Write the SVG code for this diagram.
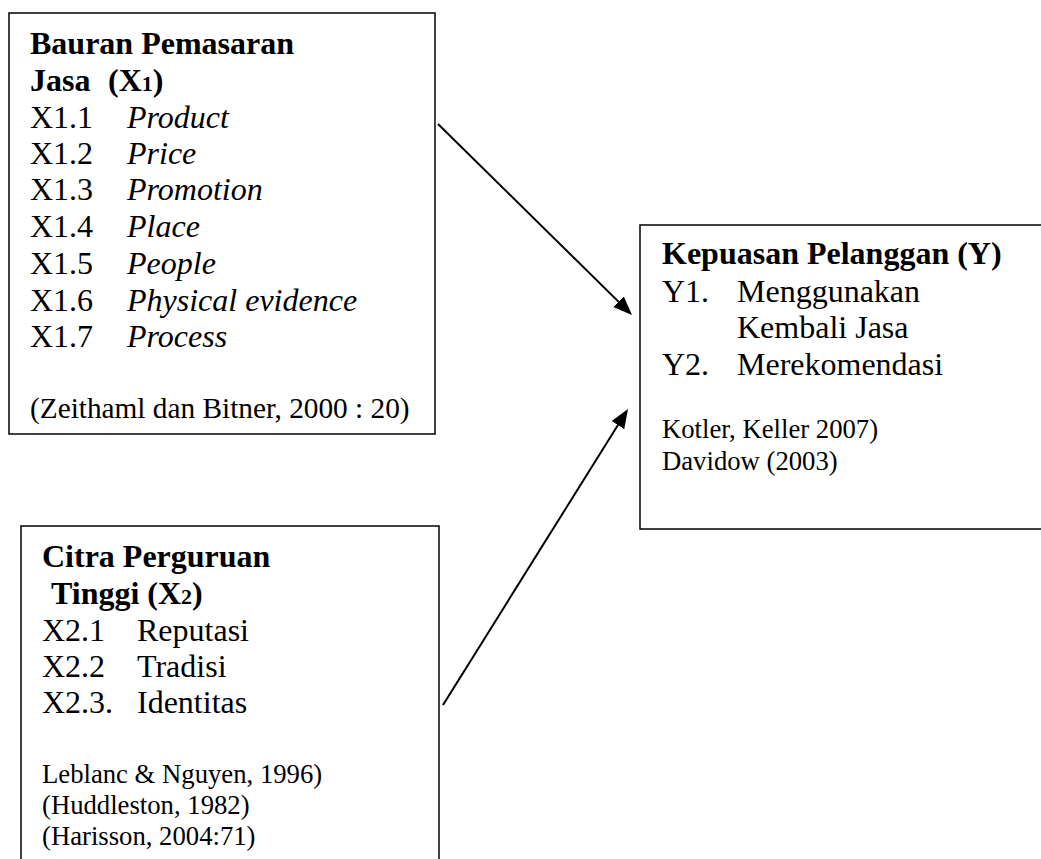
<svg xmlns="http://www.w3.org/2000/svg" width="1041" height="859" viewBox="0 0 1041 859">
<style>
  text { font-family: "Liberation Serif", "Times New Roman", serif; fill: #000; }
  .b { font-weight: bold; font-size: 32px; }
  .t { font-size: 32px; }
  .i { font-style: italic; }
  .c { font-size: 26.7px; }
  .c1 { font-size: 29.3px; }
  .box { fill: #fff; stroke: #111; stroke-width: 1.6; }
  .conn { stroke: #000; stroke-width: 2; fill: none; marker-end: url(#ah); }
</style>
<defs>
  <marker id="ah" markerUnits="userSpaceOnUse" markerWidth="20" markerHeight="16" refX="16" refY="7.5" orient="auto">
    <path d="M0,0 L19,7.5 L0,15 z" fill="#000"/>
  </marker>
</defs>
<rect width="1041" height="859" fill="#fff"/>

<g id="node-x1">
  <rect class="box" x="9" y="13" width="426" height="421"/>
  <text class="b" x="30" y="54">Bauran Pemasaran</text>
  <text class="b" x="30" y="91">Jasa</text>
  <text class="b" x="108" y="91">(X<tspan font-size="22">1</tspan>)</text>
  <text class="t" x="30" y="128">X1.1</text><text class="t i" x="127" y="128">Product</text>
  <text class="t" x="30" y="164">X1.2</text><text class="t i" x="127" y="164">Price</text>
  <text class="t" x="30" y="200">X1.3</text><text class="t i" x="127" y="200">Promotion</text>
  <text class="t" x="30" y="237">X1.4</text><text class="t i" x="127" y="237">Place</text>
  <text class="t" x="30" y="274">X1.5</text><text class="t i" x="127" y="274">People</text>
  <text class="t" x="30" y="311">X1.6</text><text class="t i" x="127" y="311">Physical evidence</text>
  <text class="t" x="30" y="347">X1.7</text><text class="t i" x="127" y="347">Process</text>
  <text class="c1" x="30" y="418">(Zeithaml dan Bitner, 2000 : 20)</text>
</g>

<g id="node-x2">
  <rect class="box" x="21" y="526" width="418" height="345"/>
  <text class="b" x="42" y="567">Citra Perguruan</text>
  <text class="b" x="51" y="604">Tinggi (X<tspan font-size="22">2</tspan>)</text>
  <text class="t" x="42" y="641">X2.1</text><text class="t" x="137" y="641">Reputasi</text>
  <text class="t" x="42" y="677">X2.2</text><text class="t" x="137" y="677">Tradisi</text>
  <text class="t" x="42" y="713">X2.3.</text><text class="t" x="137" y="713">Identitas</text>
  <text class="c" x="42" y="783">Leblanc &amp; Nguyen, 1996)</text>
  <text class="c" x="42" y="814">(Huddleston, 1982)</text>
  <text class="c" x="42" y="845">(Harisson, 2004:71)</text>
</g>

<g id="node-y">
  <rect class="box" x="640" y="225" width="410" height="304"/>
  <text class="b" x="662" y="264">Kepuasan Pelanggan (Y)</text>
  <text class="t" x="662" y="302">Y1.</text><text class="t" x="737" y="302">Menggunakan</text>
  <text class="t" x="737" y="338">Kembali Jasa</text>
  <text class="t" x="662" y="375">Y2.</text><text class="t" x="737" y="375">Merekomendasi</text>
  <text class="c" x="662" y="438">Kotler, Keller 2007)</text>
  <text class="c" x="662" y="470">Davidow (2003)</text>
</g>

<g id="connectors">
  <line class="conn" x1="438" y1="124" x2="629.9" y2="312.9"/>
  <line class="conn" x1="443" y1="705" x2="626.4" y2="411.5"/>
</g>
</svg>
